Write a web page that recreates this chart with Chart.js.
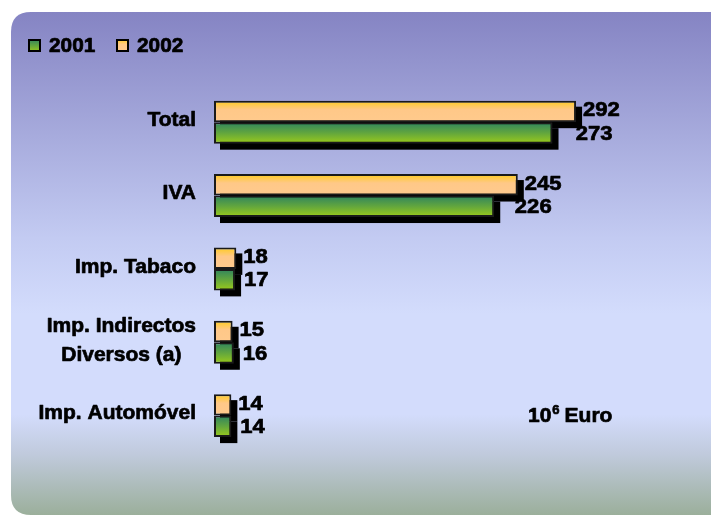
<!DOCTYPE html>
<html>
<head>
<meta charset="utf-8">
<script src="https://cdn.jsdelivr.net/npm/chart.js@4/dist/chart.umd.min.js"></script>
<style>
  html, body { margin: 0; padding: 0; background: #ffffff; }
  canvas { display: block; }
</style>
</head>
<body>
<canvas id="c" width="711" height="516"></canvas>
<script>
// ---- data ----
const categories = ['Total', 'IVA', 'Imp. Tabaco', ['Imp. Indirectos', 'Diversos (a)'], 'Imp. Automóvel'];
const seriesNames = ['2001', '2002'];
const values2001 = [273, 226, 17, 16, 14];
const values2002 = [292, 245, 18, 15, 14];
const unitBase = '10';
const unitExp = '6';
const unitText = 'Euro';

// ---- styles ----
const CAT_PCT = 0.586;
const FONT = '"Liberation Sans", Arial, sans-serif';
const STOPS_2001 = [[0, '#2e835f'], [0.5, '#62a63e'], [1, '#9ccb1a']];
const STOPS_2002 = [[0, '#ffcc1c'], [0.42, '#ffc888'], [1, '#ffca8d']];

function makeGrad(ctx, top, h, stops) {
  const g = ctx.createLinearGradient(0, top, 0, top + h);
  stops.forEach(([o, c]) => g.addColorStop(o, c));
  return g;
}

function barGradient(c, stops) {
  const chart = c.chart;
  const ys = chart.scales && chart.scales.y;
  if (c.type !== 'data' || !ys || !chart.chartArea) return stops[stops.length - 1][1];
  const n = chart.data.labels.length;
  const center = ys.getPixelForValue(c.dataIndex);
  const cat = (ys.bottom - ys.top) / n;
  const h = cat * CAT_PCT / 2;
  const top = c.datasetIndex === 0 ? center - h : center;
  return makeGrad(chart.ctx, top, h, stops);
}

function boldText(ctx, text, x, y, sx) {
  ctx.save();
  ctx.translate(x, y);
  ctx.scale(sx, 1);
  ctx.lineWidth = 0.7;
  ctx.strokeStyle = ctx.fillStyle;
  ctx.lineJoin = 'round';
  ctx.strokeText(text, 0, 0);
  ctx.fillText(text, 0, 0);
  ctx.restore();
}

const bgPlugin = {
  id: 'bg',
  beforeDraw(chart) {
    const ctx = chart.ctx;
    const W = chart.width, H = chart.height;
    ctx.save();
    ctx.fillStyle = '#ffffff';
    ctx.fillRect(0, 0, W, H);
    const x0 = 11, y0 = 12, x1 = W + 30, y1 = 515, r = 20;
    const g = ctx.createLinearGradient(0, y0, 0, y1);
    g.addColorStop(0, '#8584c3');
    g.addColorStop(0.45, '#c3cbf2');
    g.addColorStop(0.6, '#d3dcfc');
    g.addColorStop(0.8, '#d3dcfc');
    g.addColorStop(0.88, '#c0cadc');
    g.addColorStop(1, '#9baf9b');
    ctx.fillStyle = g;
    ctx.beginPath();
    ctx.moveTo(x0 + r, y0);
    ctx.lineTo(x1, y0);
    ctx.lineTo(x1, y1);
    ctx.lineTo(x0 + r, y1);
    ctx.quadraticCurveTo(x0, y1, x0, y1 - r);
    ctx.lineTo(x0, y0 + r);
    ctx.quadraticCurveTo(x0, y0, x0 + r, y0);
    ctx.closePath();
    ctx.fill();
    ctx.restore();
  }
};

const shadowPlugin = {
  id: 'shadow',
  beforeDatasetsDraw(chart) {
    const ctx = chart.ctx;
    ctx.save();
    ctx.fillStyle = '#000000';
    chart.data.datasets.forEach((ds, i) => {
      const meta = chart.getDatasetMeta(i);
      meta.data.forEach(el => {
        const p = el.getProps(['x', 'y', 'base', 'height'], true);
        ctx.fillRect(p.base + 6, p.y - p.height / 2 + 6, p.x - p.base, p.height);
      });
    });
    ctx.restore();
  }
};

const textPlugin = {
  id: 'texts',
  afterDraw(chart) {
    const ctx = chart.ctx;
    const ys = chart.scales.y;
    const area = chart.chartArea;
    ctx.save();
    ctx.fillStyle = '#000000';

    // category labels (block right-aligned, lines centered)
    ctx.font = 'bold 21px ' + FONT;
    ctx.textBaseline = 'middle';
    ctx.textAlign = 'center';
    const right = area.left - 18;
    chart.data.labels.forEach((lab, i) => {
      const lines = Array.isArray(lab) ? lab : [lab];
      const w = Math.max(...lines.map(l => ctx.measureText(l).width));
      const cx = right - w / 2;
      const lh = 29;
      const cy = ys.getPixelForValue(i) - 2;
      lines.forEach((l, k) => {
        boldText(ctx, l, cx, cy + (k - (lines.length - 1) / 2) * lh, 1);
      });
    });

    // data labels
    ctx.font = 'bold 21px ' + FONT;
    ctx.textAlign = 'left';
    chart.data.datasets.forEach((ds, i) => {
      const meta = chart.getDatasetMeta(i);
      const is2001 = ds.label === seriesNames[0];
      meta.data.forEach((el, j) => {
        const p = el.getProps(['x', 'y', 'base'], true);
        const len = p.x - p.base;
        const off = is2001 ? 8 + 0.045 * len : 7;
        const dy = is2001 ? 1 : -1;
        boldText(ctx, String(ds.data[j]), p.x + off, p.y + dy, 1.05);
      });
    });

    // legend
    const legendItems = [
      { name: seriesNames[0], stops: STOPS_2001, x: 28 },
      { name: seriesNames[1], stops: STOPS_2002, x: 116 }
    ];
    legendItems.forEach(it => {
      const by = 39, bs = 13;
      ctx.fillStyle = makeGrad(ctx, by, bs, it.stops);
      ctx.fillRect(it.x, by, bs, bs);
      ctx.strokeStyle = '#000000';
      ctx.lineWidth = 2;
      ctx.strokeRect(it.x + 1, by + 1, bs - 2, bs - 2);
      ctx.fillStyle = '#000000';
      ctx.font = 'bold 20px ' + FONT;
      boldText(ctx, it.name, it.x + 21, by + bs / 2 + 1, 1.04);
    });

    // unit annotation
    ctx.textBaseline = 'alphabetic';
    ctx.font = 'bold 21px ' + FONT;
    const ux = area.left + 314, uy = 422;
    boldText(ctx, unitBase, ux, uy, 1);
    const w10 = ctx.measureText(unitBase).width;
    ctx.font = 'bold 13px ' + FONT;
    boldText(ctx, unitExp, ux + w10 + 1, uy - 8, 1);
    const w6 = ctx.measureText(unitExp).width;
    ctx.font = 'bold 21px ' + FONT;
    boldText(ctx, unitText, ux + w10 + 1 + w6 + 5, uy, 1);

    ctx.restore();
  }
};

new Chart(document.getElementById('c'), {
  type: 'bar',
  data: {
    labels: categories,
    datasets: [
      {
        label: seriesNames[1],
        data: values2002,
        backgroundColor: c => barGradient(c, STOPS_2002),
        borderColor: '#1a1a1a',
        borderWidth: 2,
        borderSkipped: false
      },
      {
        label: seriesNames[0],
        data: values2001,
        backgroundColor: c => barGradient(c, STOPS_2001),
        borderColor: '#1a1a1a',
        borderWidth: 2,
        borderSkipped: false
      }
    ]
  },
  options: {
    indexAxis: 'y',
    responsive: false,
    animation: false,
    devicePixelRatio: 1,
    layout: { padding: { left: 214, right: 1, top: 85.5, bottom: 63.7 } },
    datasets: { bar: { barPercentage: 1, categoryPercentage: CAT_PCT } },
    scales: {
      x: { display: false, min: 0, max: 400 },
      y: { display: false }
    },
    plugins: {
      legend: { display: false },
      tooltip: { enabled: false }
    }
  },
  plugins: [bgPlugin, shadowPlugin, textPlugin]
});
</script>
</body>
</html>
